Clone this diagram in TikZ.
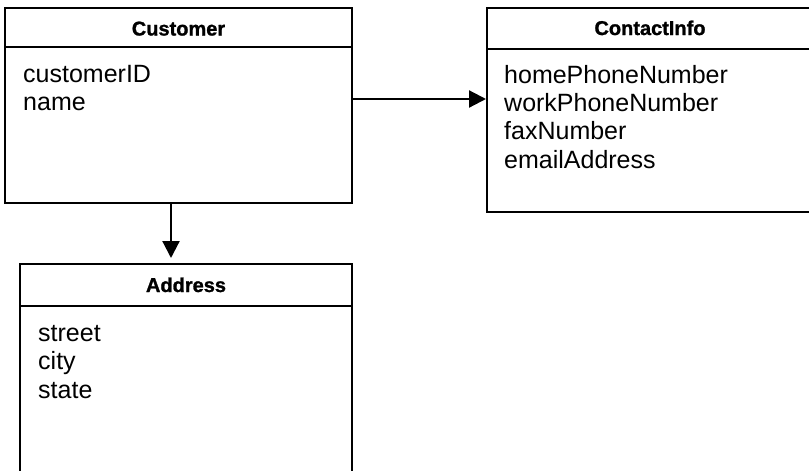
\documentclass[tikz,border=0pt]{standalone}
\usepackage{fontspec}
\setmainfont{Liberation Sans}
\newfontfamily\titlefont[FakeBold=1.2]{Liberation Sans Bold}
\usetikzlibrary{arrows.meta}
\tikzset{
  box/.style={draw=black, line width=2pt, rectangle, inner sep=0pt, fill=white},
  divider/.style={draw=black, line width=2pt},
  title/.style={anchor=base, inner sep=0pt, font=\fontsize{20}{24}\selectfont\titlefont},
  attr/.style={anchor=base west, inner sep=0pt, font=\fontsize{25}{28}\selectfont},
  arr/.style={draw=black, line width=2.2pt, -{Triangle[length=17pt,width=17pt]}}
}
\begin{document}
\begin{tikzpicture}[x=1pt,y=-1pt]
\useasboundingbox (0,0) rectangle (809,471);
\clip (0,0) rectangle (809,471);
\fill[white] (0,0) rectangle (809,471);
% boxes
\node[box, minimum width=347pt, minimum height=195pt] (cust) at (178.5,105.5) {};
\node[box, minimum width=326pt, minimum height=204pt] (ci) at (650,110) {};
\node[box, minimum width=332pt, minimum height=216pt] (addr) at (186,372) {};
% dividers
\draw[divider] ([yshift=-40pt]cust.north west) -- ([yshift=-40pt]cust.north east);
\draw[divider] ([yshift=-42pt]ci.north west) -- ([yshift=-42pt]ci.north east);
\draw[divider] ([yshift=-43pt]addr.north west) -- ([yshift=-43pt]addr.north east);
% titles
\node[title] (custT) at (178.5,35.5) {Customer};
\node[title] (ciT) at (650,35) {ContactInfo};
\node[title] (addrT) at (186,292) {Address};
% attributes
\node[attr] (c1) at (23,82) {customerID};
\node[attr] (c2) at (23,110) {name};
\node[attr] (i1) at (504,83) {homePhoneNumber};
\node[attr] (i2) at (504,111.5) {workPhoneNumber};
\node[attr] (i3) at (504,139.5) {faxNumber};
\node[attr] (i4) at (504,168) {emailAddress};
\node[attr] (a1) at (38,341) {street};
\node[attr] (a2) at (38,369.5) {city};
\node[attr] (a3) at (38,398) {state};
% connectors
\coordinate (p) at ([yshift=6.5pt]cust.east);
\draw[arr] (p) -- (p -| ci.west);
\coordinate (q) at ([xshift=-7.5pt]cust.south);
\draw[arr, shorten >=5pt] (q) -- (q |- addr.north);
\end{tikzpicture}
\end{document}
